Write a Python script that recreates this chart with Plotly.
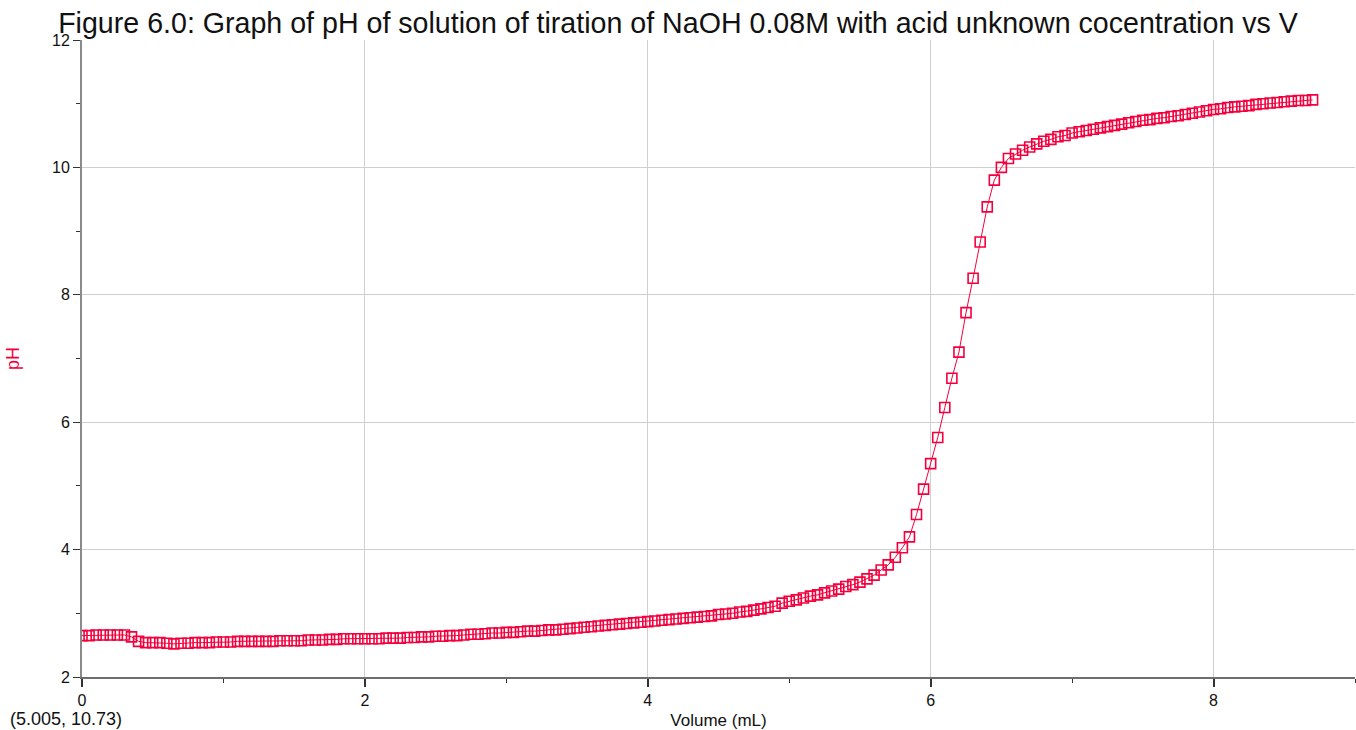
import plotly.graph_objects as go

# pH readings, one every 0.05 mL of titrant added
ph = [
    2.65, 2.65, 2.66, 2.66, 2.66, 2.66, 2.66, 2.63, 2.56, 2.54,
    2.54, 2.54, 2.53, 2.52, 2.53, 2.53, 2.54, 2.54, 2.54, 2.55,
    2.55, 2.55, 2.56, 2.56, 2.56, 2.56, 2.56, 2.56, 2.57, 2.57,
    2.57, 2.57, 2.58, 2.58, 2.58, 2.59, 2.59, 2.60, 2.60, 2.60,
    2.60, 2.60, 2.60, 2.61, 2.61, 2.61, 2.62, 2.62, 2.63, 2.63,
    2.64, 2.64, 2.65, 2.65, 2.66, 2.67, 2.67, 2.68, 2.69, 2.69,
    2.70, 2.70, 2.71, 2.72, 2.72, 2.73, 2.74, 2.74, 2.75, 2.76,
    2.77, 2.78, 2.79, 2.80, 2.81, 2.82, 2.83, 2.84, 2.85, 2.86,
    2.87, 2.88, 2.89, 2.90, 2.91, 2.92, 2.93, 2.94, 2.95, 2.96,
    2.98, 2.99, 3.00, 3.02, 3.03, 3.05, 3.07, 3.09, 3.11, 3.16,
    3.19, 3.21, 3.24, 3.27, 3.29, 3.32, 3.35, 3.38, 3.42, 3.45,
    3.49, 3.54, 3.60, 3.68, 3.76, 3.88, 4.03, 4.20, 4.55, 4.95,
    5.35, 5.76, 6.23, 6.69, 7.10, 7.72, 8.26, 8.83, 9.38, 9.80,
    10.00, 10.14, 10.21, 10.27, 10.32, 10.37, 10.41, 10.44, 10.48, 10.50,
    10.54, 10.56, 10.58, 10.60, 10.62, 10.64, 10.66, 10.68, 10.70, 10.72,
    10.74, 10.75, 10.77, 10.78, 10.80, 10.81, 10.83, 10.85, 10.87, 10.89,
    10.91, 10.92, 10.94, 10.95, 10.96, 10.97, 10.99, 11.00, 11.01, 11.02,
    11.03, 11.04, 11.05, 11.05, 11.06,
]
volume_step = 0.05
volume = [round(i * volume_step, 2) for i in range(len(ph))]

x_ticks = [0, 2, 4, 6, 8]
y_ticks = [2, 4, 6, 8, 10, 12]

title_text = ("Figure 6.0: Graph of pH of solution of tiration of NaOH 0.08M "
              "with acid unknown cocentration vs V")
cursor_text = "(5.005, 10.73)"

RED = "#f5003d"
FONT = "Liberation Sans, Arial, sans-serif"
INK = "#111111"

fig = go.Figure()
fig.add_trace(go.Scatter(
    x=volume, y=ph, mode="lines+markers",
    line=dict(color=RED, width=1),
    marker=dict(symbol="square-open", size=10, color=RED,
                line=dict(color=RED, width=1.6)),
    showlegend=False,
))

axis_common = dict(
    showgrid=True, gridcolor="#cfcfcf", gridwidth=1,
    zeroline=False, showline=True, ticks="outside",
    tickfont=dict(family=FONT, size=16, color=INK),
)

fig.update_xaxes(
    range=[0, 9], tickvals=x_ticks, linecolor="#6e6e6e", linewidth=2,
    tickcolor="#333333", ticklen=8, tickwidth=2,
    minor=dict(tickvals=[1, 3, 5, 7, 9], ticks="outside", ticklen=4,
               tickcolor="#333333", tickwidth=1, showgrid=False),
    title=dict(text="Volume (mL)", font=dict(family=FONT, size=17, color=INK),
               standoff=7),
    **axis_common,
)
fig.update_yaxes(
    range=[2, 12], tickvals=y_ticks, linecolor="#8a8a8a", linewidth=2,
    tickcolor="#333333", ticklen=7, tickwidth=1,
    minor=dict(tickvals=[3, 5, 7, 9, 11], ticks="outside", ticklen=4,
               tickcolor="#333333", tickwidth=1, showgrid=False),
    title=dict(text="pH", font=dict(family=FONT, size=18, color=RED), standoff=28),
    **axis_common,
)

fig.add_annotation(
    text=cursor_text, xref="paper", yref="paper", x=-0.058, y=-0.047,
    xanchor="left", yanchor="top", showarrow=False,
    font=dict(family=FONT, size=18, color=INK),
)

fig.update_layout(
    width=1356, height=730,
    margin=dict(l=82, r=1, t=40, b=53),
    paper_bgcolor="white", plot_bgcolor="white",
    title=dict(text=title_text, x=0.5, xref="container", xanchor="center",
               y=0.968, yref="container", yanchor="middle",
               font=dict(family=FONT, size=28.6, color=INK)),
)

fig.write_html("out.html")
